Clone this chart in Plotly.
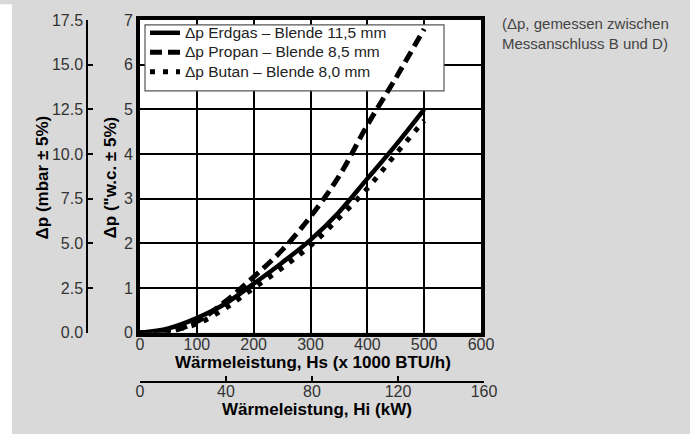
import plotly.graph_objects as go

# ---- data ----
hs = [0, 50, 100, 150, 200, 250, 300, 350, 400, 450, 500]  # x 1000 BTU/h
erdgas = [0, 0.1, 0.33, 0.65, 1.1, 1.57, 2.08, 2.7, 3.45, 4.2, 5.0]
propan = [0, 0.02, 0.25, 0.7, 1.25, 1.85, 2.6, 3.5, 4.65, 5.7, 6.8]
butan = [0, 0.05, 0.2, 0.55, 1.0, 1.45, 1.95, 2.57, 3.23, 4.0, 4.75]

names = ["Δp Erdgas – Blende 11,5 mm", "Δp Propan – Blende 8,5 mm", "Δp Butan – Blende 8,0 mm"]
wc_ticks = [0, 1, 2, 3, 4, 5, 6, 7]
mbar_ticks = [0, 2.5, 5, 7.5, 10, 12.5, 15, 17.5]
hs_ticks = [0, 100, 200, 300, 400, 500, 600]
kw_ticks = [0, 40, 80, 120, 160]

W, H = 690, 434
L, R, T, B = 80, 206, 14, 52
PW, PH = W - L - R, H - T - B

# main plot pixel box
X0P, X1P, Y0P, Y1P = 140, 481, 332, 14


def px(xp):
    return (xp - L) / PW


def py(yp):
    return (H - B - yp) / PH


def dx(xp):  # pixel -> data x (main axis)
    return (xp - X0P) / (X1P - X0P) * 600


def dy(yp):  # pixel -> data y (main axis)
    return (Y0P - yp) / (Y0P - Y1P) * 7


GRAY = "#d9d9d9"
FONT = "Liberation Sans, Arial, sans-serif"
TICKC = "#333333"
TF = dict(family=FONT, size=16, color=TICKC)


def lname(s):
    return "<span style='font-size:15.5px'>" + s + "</span>"


fig = go.Figure()
fig.add_trace(go.Scatter(x=hs, y=erdgas, name=lname(names[0]), mode="lines",
                         line=dict(color="black", width=4.5, shape="spline", smoothing=1)))
fig.add_trace(go.Scatter(x=hs, y=propan, name=lname(names[1]), mode="lines",
                         line=dict(color="black", width=5, dash="12px,6px", shape="spline", smoothing=1)))
fig.add_trace(go.Scatter(x=hs, y=butan, name=lname(names[2]), mode="lines",
                         line=dict(color="black", width=5, dash="5px,8px", shape="spline", smoothing=1)))
# dummy traces to create the secondary axes
fig.add_trace(go.Scatter(x=[None], y=[None], xaxis="x", yaxis="y2", showlegend=False, hoverinfo="skip"))
fig.add_trace(go.Scatter(x=[None], y=[None], xaxis="x3", yaxis="y3", showlegend=False, hoverinfo="skip"))

xdom = [px(X0P), px(X1P)]
ydom = [py(Y0P), py(Y1P)]

fig.update_layout(
    width=W, height=H,
    margin=dict(l=L, r=R, t=T, b=B),
    paper_bgcolor=GRAY, plot_bgcolor="rgba(0,0,0,0)",
    font=dict(family=FONT, size=16, color=TICKC),
    xaxis=dict(domain=xdom, range=[0, 600], anchor="y", tickvals=hs_ticks,
               showgrid=True, gridcolor="black", gridwidth=2,
               showline=True, linecolor="black", linewidth=4, mirror=True,
               ticks="", zeroline=False, tickfont=TF, ticklabelstandoff=-6),
    yaxis=dict(domain=ydom, range=[0, 7], anchor="x", tickvals=wc_ticks,
               showgrid=True, gridcolor="black", gridwidth=2,
               showline=True, linecolor="black", linewidth=4, mirror=True,
               ticks="", zeroline=False, tickfont=TF),
    yaxis2=dict(overlaying="y", anchor="free", position=px(87), side="left",
                range=[0, 17.5], tickvals=mbar_ticks, tickformat=".1f",
                showgrid=False, zeroline=False, showline=True, linecolor="black",
                linewidth=1.5, ticks="inside", ticklen=5, tickwidth=1.5, tickcolor="black",
                tickfont=TF),
    xaxis3=dict(domain=[px(X0P), px(484)], range=[0, 160], anchor="free", position=0,
                tickvals=kw_ticks, showgrid=False, zeroline=False, showline=True,
                linecolor="black", linewidth=1.5, ticks="inside", ticklen=5, tickwidth=1.5,
                tickcolor="black", tickfont=TF, ticklabelstandoff=-5),
    yaxis3=dict(domain=ydom, range=[0, 1], anchor="x3", visible=False, showgrid=False, zeroline=False),
    legend=dict(x=px(145), y=py(12), xanchor="left", yanchor="top",
                bgcolor="rgba(0,0,0,0)", borderwidth=0,
                font=dict(family=FONT, size=12.7, color="#222222"), tracegroupgap=0),
    showlegend=True,
)

# white plotting area
fig.add_shape(type="rect", xref="x", yref="y", x0=0, x1=600, y0=0, y1=7,
              fillcolor="white", line=dict(width=0), layer="below")
# legend box (above grid, below curves)
fig.add_shape(type="rect", xref="x", yref="y", x0=dx(145), x1=dx(444), y0=dy(86), y1=dy(19),
              fillcolor="white", line=dict(width=1.2, color="#555555"), layer="between")
# white strip on the far left
fig.add_shape(type="rect", xref="paper", yref="paper", x0=px(-2), x1=px(12), y0=py(436), y1=py(-2),
              fillcolor="white", line=dict(width=0), layer="below")

TB = dict(family=FONT, size=17, color="black")
fig.add_annotation(text="<b>Wärmeleistung, Hs (x 1000 BTU/h)</b>", xref="paper", yref="paper",
                   x=px(313), y=py(362), showarrow=False, font=TB, xanchor="center", yanchor="middle")
fig.add_annotation(text="<b>Wärmeleistung, Hi (kW)</b>", xref="paper", yref="paper",
                   x=px(317), y=py(410), showarrow=False, font=TB, xanchor="center", yanchor="middle")
fig.add_annotation(text="<b>Δp (\"w.c. ± 5%)</b>", xref="paper", yref="paper", textangle=-90,
                   x=px(110), y=py(174), showarrow=False, font=TB, xanchor="center", yanchor="middle")
fig.add_annotation(text="<b>Δp (mbar ± 5%)</b>", xref="paper", yref="paper", textangle=-90,
                   x=px(42), y=py(174), showarrow=False, font=TB, xanchor="center", yanchor="middle")
fig.add_annotation(text="(Δp, gemessen zwischen<br>Messanschluss B und D)", xref="paper", yref="paper",
                   x=px(500), y=py(7), showarrow=False, align="left", xanchor="left", yanchor="top",
                   font=dict(family=FONT, size=15, color="#444444"))

fig.write_html("out.html", config={"displayModeBar": False},
               post_script="document.body.style.margin='0';document.body.style.padding='0';")
